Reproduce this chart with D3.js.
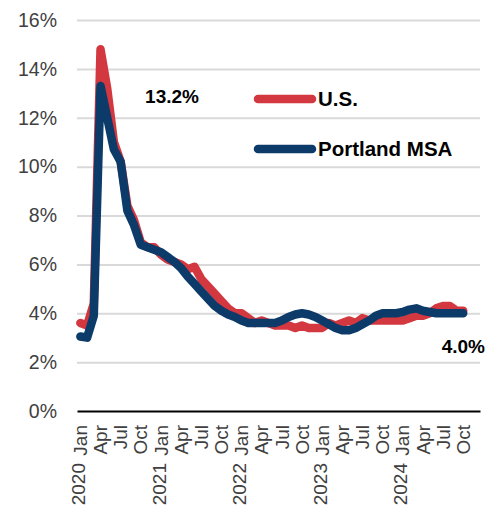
<!DOCTYPE html>
<html>
<head>
<meta charset="utf-8">
<script src="https://cdn.jsdelivr.net/npm/d3@7"></script>
<style>
  body { margin: 0; background: #fff; }
  text { font-family: "Liberation Sans", Arial, sans-serif; }
</style>
</head>
<body>
<svg id="chart" width="495" height="513"></svg>
<script>
// data (monthly unemployment rate, %)
var years = [2020, 2021, 2022, 2023, 2024];
var monthNames = ["Jan", "Feb", "Mar", "Apr", "May", "Jun", "Jul", "Aug", "Sep", "Oct", "Nov", "Dec"];
var labelMonths = ["Jan", "Apr", "Jul", "Oct"];
var yTicks = [0, 2, 4, 6, 8, 10, 12, 14, 16];
var seriesNames = ["U.S.", "Portland MSA"];

var usRate = [
  3.6, 3.5, 4.4, 14.8, 13.2, 11.0, 10.2, 8.4, 7.8, 6.9, 6.7, 6.7,
  6.4, 6.2, 6.1, 6.0, 5.8, 5.9, 5.4, 5.1, 4.8, 4.5, 4.2, 4.0,
  4.0, 3.8, 3.6, 3.7, 3.6, 3.5, 3.5, 3.5, 3.4, 3.5, 3.4, 3.4,
  3.4, 3.6, 3.5, 3.6, 3.7, 3.6, 3.8, 3.7, 3.7, 3.7, 3.7, 3.7,
  3.7, 3.8, 3.9, 3.9, 4.0, 4.2, 4.3, 4.3, 4.1, 4.1
];
var portlandRate = [
  3.05, 3.0, 3.9, 13.3, 12.0, 10.7, 10.2, 8.2, 7.6, 6.8, 6.7, 6.6,
  6.5, 6.3, 6.1, 5.85, 5.5, 5.2, 4.9, 4.6, 4.3, 4.1, 3.95, 3.85,
  3.7, 3.6, 3.6, 3.6, 3.6, 3.6, 3.7, 3.85, 3.95, 4.0, 3.95, 3.85,
  3.7, 3.55, 3.4, 3.3, 3.3, 3.4, 3.55, 3.7, 3.9, 4.0, 4.0, 4.0,
  4.05, 4.15, 4.2, 4.1, 4.05, 4.0, 4.0, 4.0, 4.0, 4.0
];
var peakLabel = "13.2%";
var lastLabel = "4.0%";

var colors = ["#d3373f", "#0c3b69"];

// categories: every month Jan 2020 .. Dec 2024
var categories = [];
years.forEach(function(yr) {
  monthNames.forEach(function(m) { categories.push(yr + " " + m); });
});

var svg = d3.select("#chart");

var x = d3.scaleBand()
    .domain(categories)
    .range([77, 480])
    .padding(0);

var y = d3.scaleLinear()
    .domain([0, 16])
    .range([411, 20]);

function cx(i) { return x(categories[i]) + x.bandwidth() / 2; }

// gridlines
svg.append("g")
    .attr("transform", "translate(77,0)")
    .call(d3.axisLeft(y).tickValues(yTicks.slice(1)).tickSize(-403).tickFormat(""))
    .call(function(g) { g.select(".domain").remove(); })
    .selectAll("line")
    .attr("stroke", "#d9d9d9")
    .attr("stroke-width", 2);

// y axis labels
var yAxis = svg.append("g")
    .attr("transform", "translate(77,0)")
    .call(d3.axisLeft(y).tickValues(yTicks).tickSize(0).tickPadding(20)
          .tickFormat(function(d) { return d + "%"; }));
yAxis.select(".domain").remove();
yAxis.selectAll("text")
    .attr("fill", "#404040")
    .style("font-size", "19.5px")
    .style("font-family", "'Liberation Sans', Arial, sans-serif");

// x axis
var xAxis = svg.append("g")
    .attr("transform", "translate(0,411)")
    .call(d3.axisBottom(x).tickSize(0).tickFormat(function(d) {
      var m = d.split(" ")[1];
      return labelMonths.indexOf(m) >= 0 ? m : "";
    }));
xAxis.select(".domain")
    .attr("stroke", "#000")
    .attr("stroke-width", 2);
xAxis.selectAll("text")
    .attr("fill", "#404040")
    .style("font-size", "19px")
    .style("font-family", "'Liberation Sans', Arial, sans-serif")
    .attr("text-anchor", "end")
    .attr("transform", "rotate(-90)")
    .attr("x", -14)
    .attr("y", 0)
    .attr("dy", "0.35em");

// year labels
svg.append("g")
  .selectAll("text")
  .data(years)
  .join("text")
    .attr("transform", function(d) {
      return "translate(" + (x(d + " Jan") + x.bandwidth() / 2 - 2) + ",463) rotate(-90)";
    })
    .attr("text-anchor", "end")
    .attr("dy", "0.35em")
    .attr("fill", "#404040")
    .style("font-size", "19px")
    .text(function(d) { return d; });

// lines
var line = d3.line()
    .x(function(d, i) { return cx(i); })
    .y(function(d) { return y(d); });

[usRate, portlandRate].forEach(function(vals, k) {
  svg.append("path")
      .datum(vals)
      .attr("fill", "none")
      .attr("stroke", colors[k])
      .attr("stroke-width", 8.5)
      .attr("stroke-linejoin", "round")
      .attr("stroke-linecap", "round")
      .attr("d", line);
});

// legend
var legend = svg.append("g");
seriesNames.forEach(function(name, k) {
  var ly = 99 + k * 50;
  legend.append("line")
      .attr("x1", 258).attr("x2", 312)
      .attr("y1", ly).attr("y2", ly)
      .attr("stroke", colors[k])
      .attr("stroke-width", 8.5)
      .attr("stroke-linecap", "round");
  legend.append("text")
      .attr("x", 318)
      .attr("y", ly)
      .attr("dy", "0.36em")
      .attr("fill", "#000")
      .style("font-size", "20.5px")
      .style("font-weight", "bold")
      .text(name);
});

// annotations
svg.append("text")
    .attr("x", 172).attr("y", 103)
    .attr("text-anchor", "middle")
    .style("font-size", "19px")
    .style("font-weight", "bold")
    .text(peakLabel);

svg.append("text")
    .attr("x", 485).attr("y", 353)
    .attr("text-anchor", "end")
    .style("font-size", "19px")
    .style("font-weight", "bold")
    .text(lastLabel);
</script>
</body>
</html>
